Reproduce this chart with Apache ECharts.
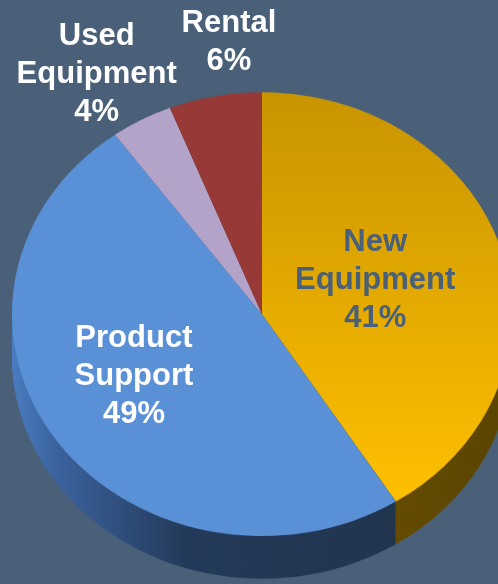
<!DOCTYPE html>
<html><head><meta charset="utf-8">
<script src="https://cdn.jsdelivr.net/npm/echarts@6/dist/echarts.min.js"></script>
<style>
html,body{margin:0;padding:0;background:#4a6079;width:498px;height:584px;overflow:hidden;}
#wrap{position:relative;width:498px;height:584px;overflow:hidden;}
#pie{position:absolute;left:0;top:0;width:498px;height:658px;transform:scaleY(0.8875);transform-origin:0 0;}
#lab{position:absolute;left:0;top:0;width:498px;height:584px;}
</style></head><body>
<div id="wrap"><div id="pie"></div><div id="lab"></div></div>
<script>
const categories = ['New Equipment', 'Product Support', 'Used Equipment', 'Rental'];
const shares = [41, 49, 4, 6];

const FONT = '"Liberation Sans", Arial, sans-serif';
const topColors = [
  {type:'linear',x:0,y:0,x2:0,y2:1,colorStops:[{offset:0,color:'#c89400'},{offset:1,color:'#ffc000'}]},
  '#5a90d6',
  '#b4a3c9',
  '#973937'
];
const sideColors = [
  {type:'linear',x:0,y:0,x2:1,y2:0,colorStops:[{offset:0,color:'#6e5300'},{offset:1,color:'#5a4400'}]},
  {type:'linear',x:0,y:0,x2:1,y2:0,colorStops:[{offset:0,color:'#4a7cc0'},{offset:0.12,color:'#3a629d'},{offset:0.45,color:'#243a5a'},{offset:1,color:'#22354f'}]},
  '#6f6280',
  '#5a2221'
];

// Pie faces (vertically squashed container gives the tilted look)
const pieCenterY = 354;
const depth = 48;
const series = [];
for (let k = depth; k >= 2; k -= 2) {
  series.push({
    type:'pie', silent:true, animation:false, startAngle:90, clockwise:true,
    center:[262, pieCenterY + k], radius:250, z:1,
    label:{show:false}, labelLine:{show:false},
    data: categories.map((n,i)=>({name:n, value:shares[i], itemStyle:{color:sideColors[i]}}))
  });
}
series.push({
  type:'pie', silent:true, animation:false, startAngle:90, clockwise:true,
  center:[262, pieCenterY], radius:250, z:5,
  label:{show:false}, labelLine:{show:false},
  data: categories.map((n,i)=>({name:n, value:shares[i], itemStyle:{color:topColors[i]}}))
});
const pie = echarts.init(document.getElementById('pie'), null, {renderer:'canvas'});
pie.setOption({backgroundColor:'transparent', animation:false, series});

// Labels (unsquashed overlay so text is not distorted)
const labelColors = ['#4a6079', '#ffffff', '#ffffff', '#ffffff'];
const innerOffsets = [[-3,0],[-28,-6],[0,0],[0,0]];
const outerOffsets = [[0,0],[0,0],[-29,8],[20,6]];
const fmt = p => p.name.replace(' ', '\n') + '\n' + p.value + '%';
function labelSeries(radius, showIdx, offsets) {
  return {
    type:'pie', silent:true, animation:false, startAngle:90, clockwise:true,
    center:[262, 314], radius:radius, avoidLabelOverlap:false,
    labelLine:{show:false},
    data: categories.map((n,i)=>({
      name:n, value:shares[i],
      itemStyle:{color:'rgba(0,0,0,0)'},
      label:{show:showIdx.includes(i), position:'inside', formatter:fmt,
        color:labelColors[i], fontFamily:FONT, fontWeight:'bold', fontSize:31,
        lineHeight:38, align:'center', offset:offsets[i]}
    }))
  };
}
const lab = echarts.init(document.getElementById('lab'), null, {renderer:'canvas'});
lab.setOption({backgroundColor:'transparent', animation:false,
  series:[labelSeries(236, [0,1], innerOffsets), labelSeries(560, [2,3], outerOffsets)]});
</script>
</body></html>
